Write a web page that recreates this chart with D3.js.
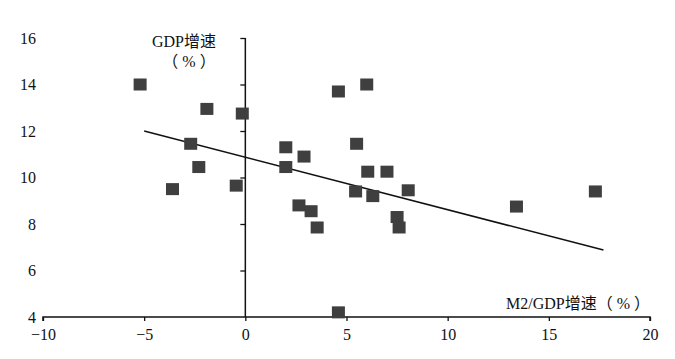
<!DOCTYPE html>
<html><head><meta charset="utf-8">
<script src="https://cdn.jsdelivr.net/npm/d3@7/dist/d3.min.js"></script>
<style>
html,body{margin:0;padding:0;background:#fff;}
svg{display:block;}
</style></head>
<body>
<script>
// Data: M2/GDP growth (x, %) vs GDP growth (y, %)
const xValues = [-5.2, -3.6, -2.7, -2.3, -1.9, -0.45, -0.15, 2.0, 2.0, 2.9, 2.65, 3.25, 3.55, 4.6, 4.6, 5.5, 5.45, 6.0, 6.05, 6.3, 7.0, 7.5, 7.6, 8.05, 13.4, 17.3];
const yValues = [14.0, 9.5, 11.45, 10.45, 12.95, 9.65, 12.75, 11.3, 10.45, 10.9, 8.8, 8.55, 7.85, 13.7, 4.2, 11.45, 9.4, 14.0, 10.25, 9.2, 10.25, 8.3, 7.85, 9.45, 8.75, 9.4];
const trendX = [-5, 17.7];
const trendY = [12, 6.88];
const xTicks = [-10, -5, 0, 5, 10, 15, 20];
const yTicks = [4, 6, 8, 10, 12, 14, 16];
const xTitle = "M2/GDP增速（ % ）";
const yTitle = ["GDP增速", "（ % ）"];

const FONT = "'Liberation Serif','Times New Roman','Noto Sans CJK SC',serif";
const W = 675, H = 359;
const svg = d3.select("body").append("svg").attr("width", W).attr("height", H);
const x = d3.scaleLinear().domain([-10, 20]).range([43, 650]);
const y = d3.scaleLinear().domain([4, 16]).range([317, 38]);

// x axis (bottom line at y=4)
const xAxis = d3.axisBottom(x).tickValues(xTicks).tickSize(4).tickPadding(8)
  .tickFormat(d => d < 0 ? "\u2212" + Math.abs(d) : d);
const gx = svg.append("g").attr("transform", `translate(0,${y(4)})`).call(xAxis);
gx.select(".domain").attr("d", `M${x(-10)},4V0H${x(20)}V4`).attr("stroke", "#111").attr("stroke-width", 1.5);
gx.selectAll(".tick line").attr("stroke", "#111").attr("stroke-width", 1.3);
gx.selectAll(".tick text").style("font-size", "16px").style("font-family", FONT).attr("fill", "#111");

// y axis at x=0; ticks to the left
const yAxis = d3.axisLeft(y).tickValues(yTicks.filter(d => d !== 4)).tickSize(5).tickFormat("");
const gy = svg.append("g").attr("transform", `translate(${x(0)},0)`).call(yAxis);
gy.select(".domain").attr("d", `M0,${y(4)}V${y(16)}`).attr("stroke", "#111").attr("stroke-width", 1.5);
gy.selectAll(".tick line").attr("stroke", "#111").attr("stroke-width", 1.3);

// y tick labels at far left
svg.append("g").selectAll("text").data(yTicks).join("text")
  .attr("x", 36).attr("y", d => y(d)).attr("dy", "0.35em")
  .attr("text-anchor", "end").style("font-size", "16px").style("font-family", FONT)
  .attr("fill", "#111").text(d => d);

// regression line
svg.append("line")
  .attr("x1", x(trendX[0])).attr("y1", y(trendY[0]))
  .attr("x2", x(trendX[1])).attr("y2", y(trendY[1]))
  .attr("stroke", "#111").attr("stroke-width", 1.6);

// points
const pts = xValues.map((v, i) => [v, yValues[i]]);
const sw = 13, sh = 12;
svg.append("g").selectAll("rect").data(pts).join("rect")
  .attr("x", d => x(d[0]) - sw / 2).attr("y", d => y(d[1]) - sh / 2)
  .attr("width", sw).attr("height", sh)
  .attr("fill", "#3f3f3f");

// titles
const t = (xx, yy, anchor, txt) => svg.append("text").attr("x", xx).attr("y", yy).attr("dy", "0.35em")
  .attr("text-anchor", anchor).style("font-size", "16px").style("font-family", FONT)
  .attr("fill", "#111").text(txt);
t(184, 41, "middle", yTitle[0]);
t(189, 61, "middle", yTitle[1]);
t(650, 303, "end", xTitle);
</script>
</body></html>
